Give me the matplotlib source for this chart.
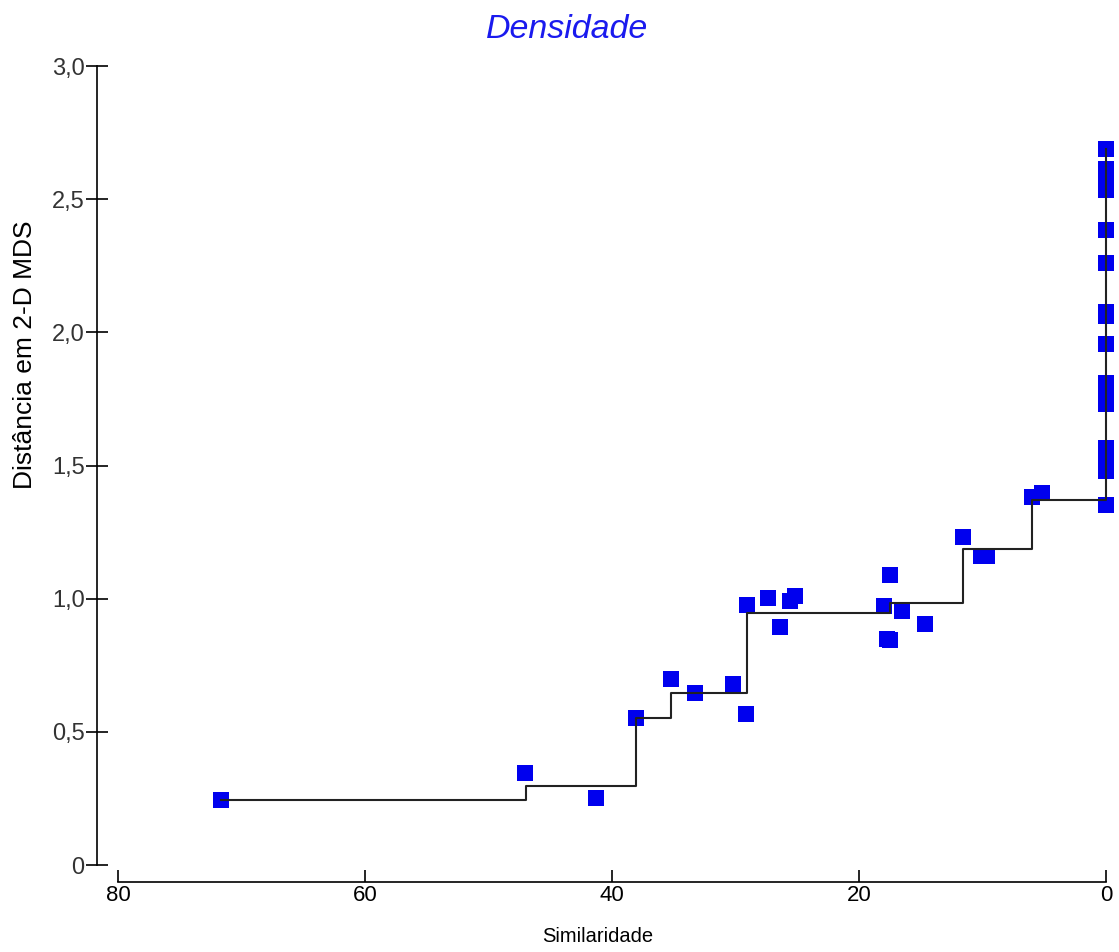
import matplotlib
matplotlib.use("Agg")
from matplotlib import pyplot as plt

plt.rcParams['font.family'] = ['Liberation Sans', 'DejaVu Sans']

# similaridade (x) e distancia no MDS (y) de cada par
sim = [71.66, 47.04, 41.3, 38.03, 35.25, 33.28, 30.18, 29.18, 29.1, 27.4,
       26.4, 25.6, 25.15, 17.98, 17.75, 17.49, 17.5, 16.52, 14.66, 11.55,
       10.15, 9.6, 5.96, 5.2,
       0, 0, 0, 0, 0, 0, 0, 0, 0, 0, 0, 0, 0, 0, 0, 0]
dist = [0.244, 0.344, 0.253, 0.551, 0.697, 0.647, 0.68, 0.567, 0.976, 1.004,
        0.895, 0.99, 1.01, 0.974, 0.848, 1.089, 0.843, 0.955, 0.905, 1.23,
        1.161, 1.161, 1.383, 1.395,
        2.69, 2.615, 2.575, 2.535, 2.383, 2.259, 2.078, 2.063, 1.956, 1.808,
        1.77, 1.731, 1.565, 1.52, 1.48, 1.352]

# regressao monotona (linha em degraus)
fit_sim = [71.66, 47.0, 38.03, 35.25, 29.1, 17.5, 11.55, 5.96, 0, 0]
fit_dist = [0.244, 0.297, 0.551, 0.644, 0.945, 0.982, 1.185, 1.371, 1.371, 2.69]

xticks = [80, 60, 40, 20, 0]
yticks = [0, 0.5, 1.0, 1.5, 2.0, 2.5, 3.0]
ytick_labels = ["0", "0,5", "1,0", "1,5", "2,0", "2,5", "3,0"]

W, H = 1119, 952
fig = plt.figure(figsize=(W / 100, H / 100), dpi=100)
ax = fig.add_axes([97 / W, (H - 865) / H, (1106 - 97) / W, (865 - 66) / H])

# pontos
ax.plot(sim, dist, linestyle='none', marker='s', markersize=11.5,
        color='#0000ee', markeredgewidth=0, clip_on=False, zorder=2)
# linha de degraus por cima
ax.plot(fit_sim, fit_dist, drawstyle='steps-post', color='#222222',
        linewidth=1.5, clip_on=False, zorder=3)

ax.set_xlim(81.7, 0)
ax.set_ylim(0, 3.0)

# eixos
ax.spines['top'].set_visible(False)
ax.spines['right'].set_visible(False)
ax.spines['left'].set_bounds(0, 3.0)
ax.spines['bottom'].set_position(('outward', 12.2))
ax.spines['bottom'].set_bounds(0, 80)
ax.spines['left'].set_linewidth(1.2)
ax.spines['bottom'].set_linewidth(1.2)

ax.set_xticks(xticks)
ax.set_xticklabels([str(v) for v in xticks], fontsize=16)
ax.set_yticks(yticks)
ax.set_yticklabels(ytick_labels, fontsize=17, color='#333333')
ax.tick_params(axis='x', direction='in', length=8.6, width=1.2, pad=2)
ax.tick_params(axis='y', direction='inout', length=15.8, width=1.2, pad=1)

# textos
fig.text(567 / W, 1 - 30 / H, "Densidade", color='#1a1aee', fontsize=24.5,
         style='italic', ha='center', va='center')
fig.text(598 / W, 1 - 937 / H, "Similaridade", fontsize=14.5,
         ha='center', va='center')
fig.text(25 / W, 1 - 355 / H, "Distância em 2-D MDS", fontsize=19,
         rotation=90, ha='center', va='center')

plt.savefig("out.png", dpi=100)
